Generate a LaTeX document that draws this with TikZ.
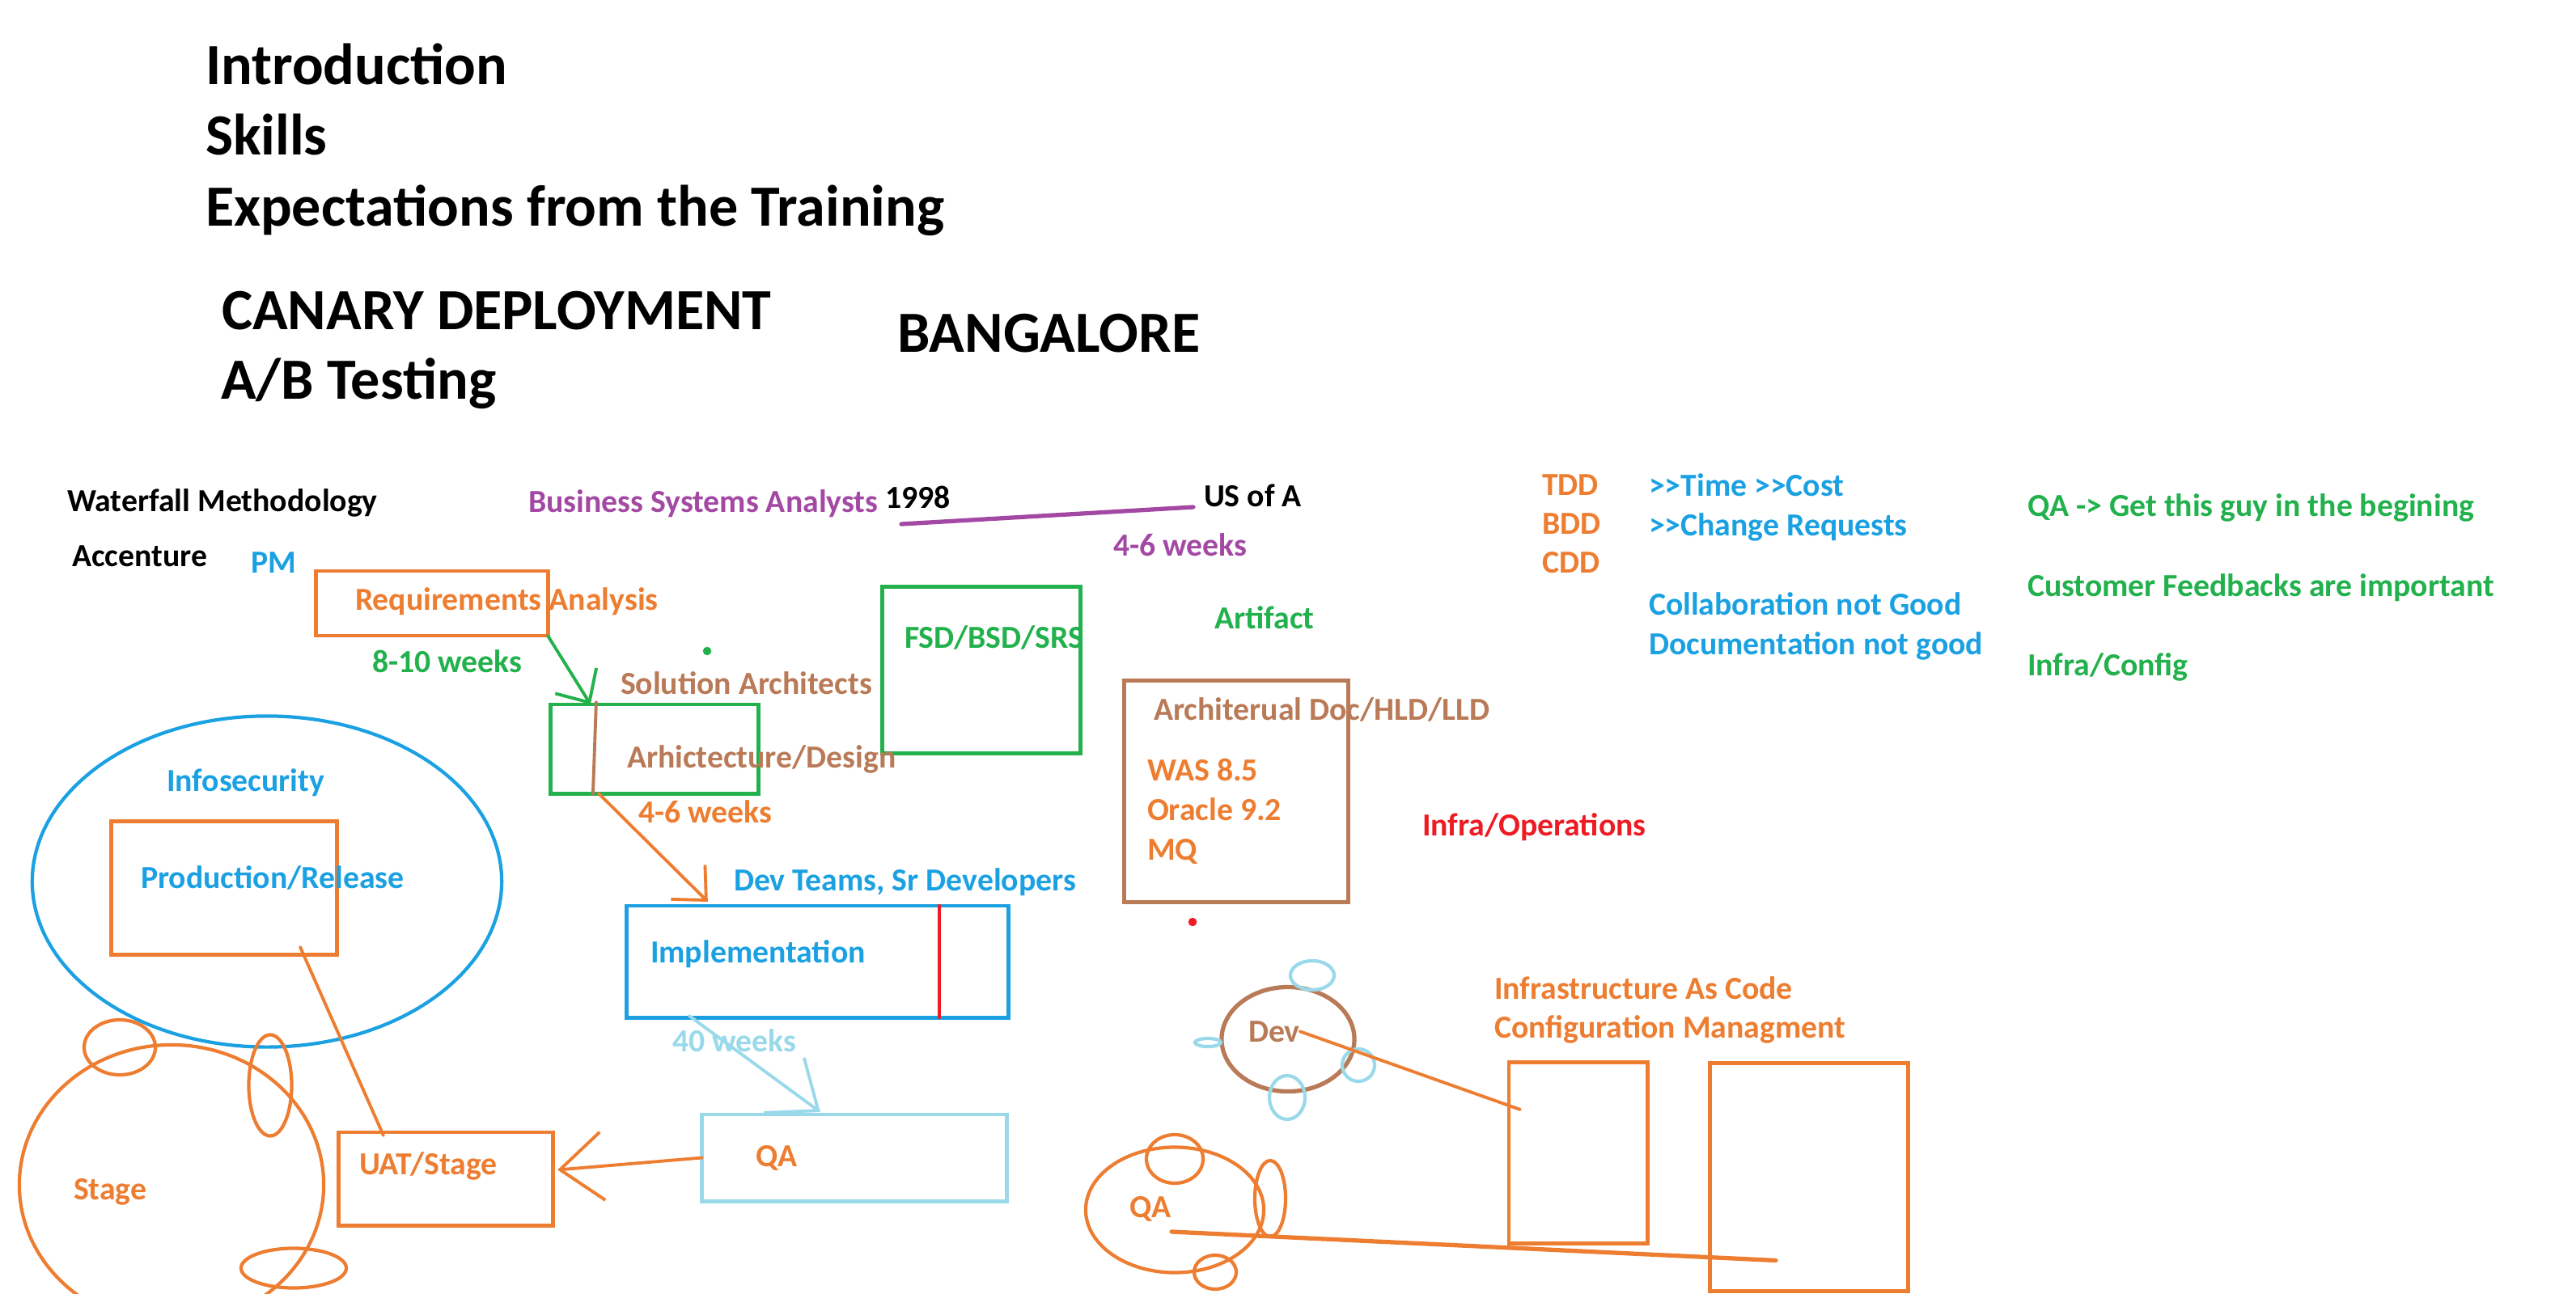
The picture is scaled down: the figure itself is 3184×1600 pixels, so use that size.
\documentclass[tikz,border=0pt]{standalone}
\usepackage{fontspec}
\setmainfont{Carlito}
\usetikzlibrary{positioning,arrows.meta,calc,shapes.geometric}
\definecolor{wbOrange}{HTML}{ED7D31}
\definecolor{wbBlue}{HTML}{1BA1E2}
\definecolor{wbGreen}{HTML}{22B14C}
\definecolor{wbPurple}{HTML}{A349A4}
\definecolor{wbBrown}{HTML}{B97A57}
\definecolor{wbSky}{HTML}{99D9EA}
\definecolor{wbRed}{HTML}{ED1C24}
\newcommand{\headfont}{\fontsize{20.5}{24}\selectfont\bfseries}
\newcommand{\notefont}{\fontsize{11.3}{13.4}\selectfont\bfseries}
\newcommand{\gtgt}{>\kern0pt>}

\begin{document}
\begin{tikzpicture}[x=0.01cm, y=-0.01cm,
    every node/.style={inner sep=0pt, outer sep=0pt},
    heading/.style={font=\headfont, anchor=base west},
    note/.style={font=\notefont, anchor=base west},
    wbbox/.style={draw, rectangle, line width=1.4pt},
    ring/.style={draw, ellipse, line width=1.2pt},
    sketch/.style={line width=1.1pt, line cap=round},
    barb/.style={-{Straight Barb[length=9pt, width=17pt]}},
    widebarb/.style={-{Straight Barb[length=15pt, width=24pt]}}]
  \useasboundingbox (0,0) rectangle (3184,1600);

  % agenda
  \node[heading] (intro)  at (254,105)  {Introduction};
  \node[heading] (skills) at (254,192)  {Skills};
  \node[heading] (expect) at (254,280)  {Expectations from the Training};
  \node[heading] (canary) at (274,407)  {CANARY DEPLOYMENT};
  \node[heading] (abtest) at (273,493)  {A/B Testing};
  \node[heading] (city)   at (1109,435) {BANGALORE};

  % waterfall notes
  \node[note] (waterfall) at (83,632)   {Waterfall Methodology};
  \node[note] (accenture) at (89,700)   {Accenture};
  \node[note, wbBlue] (pm)         at (310,708)  {PM};
  \node[note, wbPurple] (bsa)      at (653,633)  {Business Systems Analysts};
  \node[note] (yr)                 at (1094,628) {1998};
  \node[note] (usa)                at (1488,626) {US of A};
  \node[note, wbPurple] (weeksbsa) at (1376,687) {4-6 weeks};

  % boxes
  \node[wbbox, wbOrange, minimum width=2.86cm, minimum height=0.80cm] (reqbox)  at (534,746)     {};
  \node[wbbox, wbGreen,  minimum width=2.56cm, minimum height=1.10cm] (archbox) at (809,926)     {};
  \node[wbbox, wbGreen,  minimum width=2.44cm, minimum height=2.05cm] (fsdbox)  at (1213,828.5)  {};
  \node[wbbox, wbBrown,  minimum width=2.76cm, minimum height=2.73cm] (docbox)  at (1528,978.5)  {};
  \node[wbbox, wbBlue,   minimum width=4.71cm, minimum height=1.38cm] (implbox) at (1010.5,1189) {};
  \node[wbbox, wbSky,    minimum width=3.76cm, minimum height=1.07cm] (qabox)   at (1056,1431.5) {};
  \node[wbbox, wbOrange, minimum width=2.64cm, minimum height=1.15cm] (uatbox)  at (551,1457.5)  {};
  \node[wbbox, wbOrange, minimum width=2.78cm, minimum height=1.64cm] (prodbox) at (277,1098)    {};
  \node[wbbox, wbOrange, minimum width=1.71cm, minimum height=2.23cm] (iacboxa) at (1950.5,1425.5) {};
  \node[wbbox, wbOrange, minimum width=2.44cm, minimum height=2.81cm] (iacboxb) at (2236,1455.5) {};

  % rings
  \node[ring, wbBlue,   minimum width=5.80cm, minimum height=4.09cm] (infosec) at (330,1090)  {};
  \node[ring, wbOrange, minimum width=3.76cm, minimum height=3.46cm] (stage)   at (212,1465)  {};
  \node[ring, wbBrown, line width=1.5pt, minimum width=1.64cm, minimum height=1.29cm] (devring) at (1592,1285) {};
  \node[ring, wbOrange, minimum width=2.20cm, minimum height=1.55cm] (qaring)  at (1452,1496) {};
  \foreach \cx/\cy/\rw/\rh [count=\i] in {148/1295/0.88/0.68, 334/1342/0.53/1.25, 363/1568/1.30/0.49}
    \node[ring, wbOrange, minimum width=\rw cm, minimum height=\rh cm] (stagebud\i) at (\cx,\cy) {};
  \foreach \cx/\cy/\rw/\rh [count=\i] in {1622/1206/0.54/0.36, 1493/1289/0.32/0.10, 1679/1317/0.40/0.40, 1591/1357/0.44/0.54}
    \node[ring, wbSky, minimum width=\rw cm, minimum height=\rh cm] (devbud\i) at (\cx,\cy) {};
  \foreach \cx/\cy/\rw/\rh [count=\i] in {1452/1433/0.70/0.60, 1570/1482/0.38/0.94, 1502/1573/0.52/0.42}
    \node[ring, wbOrange, minimum width=\rw cm, minimum height=\rh cm] (qabud\i) at (\cx,\cy) {};
  \node[circle, fill=wbGreen, minimum size=3pt] (gdot) at (874,805)  {};
  \node[circle, fill=wbRed,   minimum size=3pt] (rdot) at (1474,1140) {};

  % phase labels
  \node[note, wbOrange] (reqtxt)    at (439,754)  {Requirements Analysis};
  \node[note, wbGreen]  (weeksreq)  at (460,831)  {8-10 weeks};
  \node[note, wbBrown]  (solarch)   at (767,858)  {Solution Architects};
  \node[note, wbBrown]  (archtxt)   at (775,949)  {Arhictecture/Design};
  \node[note, wbOrange] (weeksarch) at (789,1017) {4-6 weeks};
  \node[note, wbGreen]  (fsdtxt)    at (1118,801) {FSD/BSD/SRS};
  \node[note, wbGreen]  (artifact)  at (1501,777) {Artifact};
  \node[note, wbBrown]  (doctxt)    at (1426,890) {Architerual Doc/HLD/LLD};
  \node[note, wbOrange] (was)       at (1418,965)  {WAS 8.5};
  \node[note, wbOrange] (oracle)    at (1418,1014) {Oracle 9.2};
  \node[note, wbOrange] (mq)        at (1418,1063) {MQ};
  \node[note, wbRed]    (infraops)  at (1758,1033) {Infra/Operations};
  \node[note, wbBlue]   (infosectxt) at (206,978)  {Infosecurity};
  \node[note, wbBlue]   (prodtxt)   at (174,1098)  {Production/Release};
  \node[note, wbBlue]   (devteams)  at (907,1101)  {Dev Teams, Sr Developers};
  \node[note, wbBlue]   (impltxt)   at (804,1190)  {Implementation};
  \node[note, wbSky]    (weeksimpl) at (831,1300)  {40 weeks};
  \node[note, wbOrange] (qatxt)     at (934,1442)  {QA};
  \node[note, wbOrange] (uattxt)    at (444,1452)  {UAT/Stage};
  \node[note, wbOrange] (stagetxt)  at (91,1483)   {Stage};
  \node[note, wbOrange] (iac)       at (1847,1235) {Infrastructure As Code};
  \node[note, wbOrange] (cfgmgmt)   at (1847,1283) {Configuration Managment};
  \node[note, wbBrown]  (devtxt)    at (1543,1288) {Dev};
  \node[note, wbOrange] (qaenv)     at (1396,1505) {QA};

  % right-hand notes
  \node[note, wbOrange] (tdd) at (1906,612) {TDD};
  \node[note, wbOrange] (bdd) at (1906,660) {BDD};
  \node[note, wbOrange] (cdd) at (1906,708) {CDD};
  \node[note, wbBlue]  (timecost)  at (2038,613) {\gtgt Time \gtgt Cost};
  \node[note, wbBlue]  (changereq) at (2038,662) {\gtgt Change Requests};
  \node[note, wbBlue]  (collab)    at (2038,760) {Collaboration not Good};
  \node[note, wbBlue]  (docu)      at (2038,809) {Documentation not good};
  \node[note, wbGreen] (qaearly)   at (2506,638) {QA -> Get this guy in the begining};
  \node[note, wbGreen] (feedback)  at (2506,737) {Customer Feedbacks are important};
  \node[note, wbGreen] (infracfg)  at (2506,835) {Infra/Config};

  % connectors
  \draw[sketch, wbGreen, barb] (reqbox.south east) -- ($(archbox.north west)+(49,0)$);
  \draw[sketch, wbBrown] ($(archbox.north west)+(56,-3)$) -- ($(archbox.south west)+(52,1)$);
  \draw[sketch, wbOrange, barb] ($(archbox.south west)+(59,0)$) -- ($(implbox.north west)+(100,-5)$);
  \draw[sketch, wbRed, line width=1.3pt] ($(implbox.north west)+(386,0)$) -- ($(implbox.south west)+(386,0)$);
  \draw[sketch, wbSky, widebarb] ($(implbox.south west)+(77,-2)$) -- ($(qabox.north west)+(146,-3)$);
  \draw[sketch, wbOrange, widebarb] (qabox.west) -- ($(uatbox.east)+(6,-11)$);
  \draw[sketch, wbOrange] ($(uatbox.north west)+(55,4)$) -- ($(prodbox.south east)+(-45,-9)$);
  \draw[wbPurple, line width=1.5pt, line cap=round] ($(yr.base west)+(20,20)$) -- ($(usa.base west)+(-13,1)$);
  \draw[sketch, wbOrange] (devtxt.east) -- ($(iacboxa.north west)+(14,58)$);
  \draw[sketch, wbOrange, line width=1.5pt] ($(qaring.center)+(-4,27)$) -- ($(iacboxb.west)+(81,103)$);
\end{tikzpicture}
\end{document}
